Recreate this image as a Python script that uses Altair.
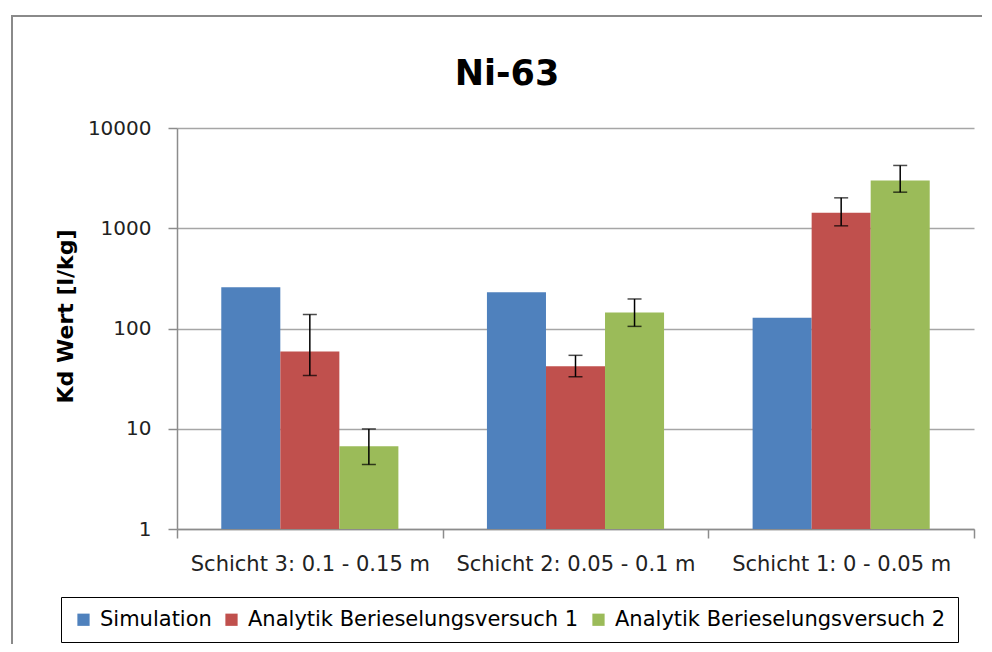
import altair as alt
import pandas as pd

categories = ["Schicht 3: 0.1 - 0.15 m", "Schicht 2: 0.05 - 0.1 m", "Schicht 1: 0 - 0.05 m"]
series = ["Simulation", "Analytik Berieselungsversuch 1", "Analytik Berieselungsversuch 2"]
colors = ["#4F81BD", "#C0504D", "#9BBB59"]
chart_title = "Ni-63"
y_title = "Kd Wert [l/kg]"

simulation = [258, 230, 128]
versuch1 = [59, 42, 1425]
versuch1_low = [34, 33, 1057]
versuch1_high = [138, 54, 2011]
versuch2 = [6.7, 144, 2990]
versuch2_low = [4.4, 105, 2290]
versuch2_high = [9.95, 197, 4230]

y_ticks = [1, 10, 100, 1000, 10000]

rows = []
for i, c in enumerate(categories):
    rows.append({"cat": c, "series": series[0], "value": simulation[i]})
    rows.append({"cat": c, "series": series[1], "value": versuch1[i]})
    rows.append({"cat": c, "series": series[2], "value": versuch2[i]})
bars_df = pd.DataFrame(rows)

err_rows = []
for i, c in enumerate(categories):
    err_rows.append({"cat": c, "series": series[1], "low": versuch1_low[i], "high": versuch1_high[i]})
    err_rows.append({"cat": c, "series": series[2], "low": versuch2_low[i], "high": versuch2_high[i]})
err_df = pd.DataFrame(err_rows)

FONT = "DejaVu Sans"

x_enc = alt.X("cat:N", sort=categories, title=None,
              scale=alt.Scale(paddingInner=0, paddingOuter=0),
              axis=alt.Axis(labelAngle=0, tickBand="extent", grid=False))
xoff = alt.XOffset("series:N", sort=series,
                   scale=alt.Scale(paddingInner=0, paddingOuter=0.75))
y_scale = alt.Scale(type="log", domain=[1, 10000], nice=False)

bars = alt.Chart(bars_df).mark_bar().encode(
    x=x_enc,
    xOffset=xoff,
    y=alt.Y("value:Q", scale=y_scale, title=y_title,
            axis=alt.Axis(values=y_ticks, format="d", grid=True, titleY=188)),
    y2=alt.datum(1),
    color=alt.Color("series:N", sort=series,
                    scale=alt.Scale(domain=series, range=colors),
                    legend=alt.Legend(title=None, orient="none", legendX=-116,
                                      legendY=469, direction="horizontal",
                                      symbolType="square", symbolSize=150,
                                      symbolStrokeWidth=0, labelFontSize=21,
                                      labelColor="#000000", labelOffset=6,
                                      columnPadding=9, padding=12,
                                      strokeColor="#000000", fillColor="#ffffff",
                                      labelLimit=500)),
)

rules = alt.Chart(err_df).mark_rule(color="black", strokeWidth=1.5).encode(
    x=alt.X("cat:N", sort=categories),
    xOffset=alt.XOffset("series:N", sort=series),
    y=alt.Y("low:Q", scale=y_scale),
    y2="high:Q",
)
cap_low = alt.Chart(err_df).mark_tick(color="black", thickness=1.5, size=14, orient="horizontal").encode(
    x=alt.X("cat:N", sort=categories),
    xOffset=alt.XOffset("series:N", sort=series),
    y=alt.Y("low:Q", scale=y_scale),
)
cap_high = alt.Chart(err_df).mark_tick(color="black", thickness=1.5, size=14, orient="horizontal").encode(
    x=alt.X("cat:N", sort=categories),
    xOffset=alt.XOffset("series:N", sort=series),
    y=alt.Y("high:Q", scale=y_scale),
)

frame = alt.Chart(alt.Data(values=[{"f": 1}])).mark_rect(
    fillOpacity=0, stroke="#8a8a8a", strokeWidth=2
).encode(x=alt.value(-165), x2=alt.value(840), y=alt.value(-112), y2=alt.value(560))

title_mark = alt.Chart(alt.Data(values=[{"t": chart_title}])).mark_text(
    fontSize=35, fontWeight="bold", color="#000000", font=FONT,
    align="center", baseline="alphabetic"
).encode(text="t:N", x=alt.value(330), y=alt.value(-43))

chart = alt.layer(frame, bars, rules, cap_low, cap_high, title_mark).properties(
    width=797, height=401,
    autosize=alt.AutoSizeParams(type="none"),
    padding={"left": 169, "top": 120, "right": 8, "bottom": 115},
).configure(font=FONT).configure_view(stroke=None).configure_axis(
    labelColor="#222222", tickColor="#8c8c8c", tickWidth=1.5, tickSize=9,
    domainColor="#8c8c8c", domainWidth=1.5, gridColor="#a6a6a6", gridWidth=1.5,
    labelLimit=500, titleColor="#000000",
).configure_axisX(
    labelFontSize=21, labelPadding=15,
).configure_axisY(
    labelFontSize=20, labelPadding=17, titleFontSize=22, titleFontWeight="bold",
    titlePadding=10,
)

chart.save("out.html", embed_options={"renderer": "svg", "actions": False})
